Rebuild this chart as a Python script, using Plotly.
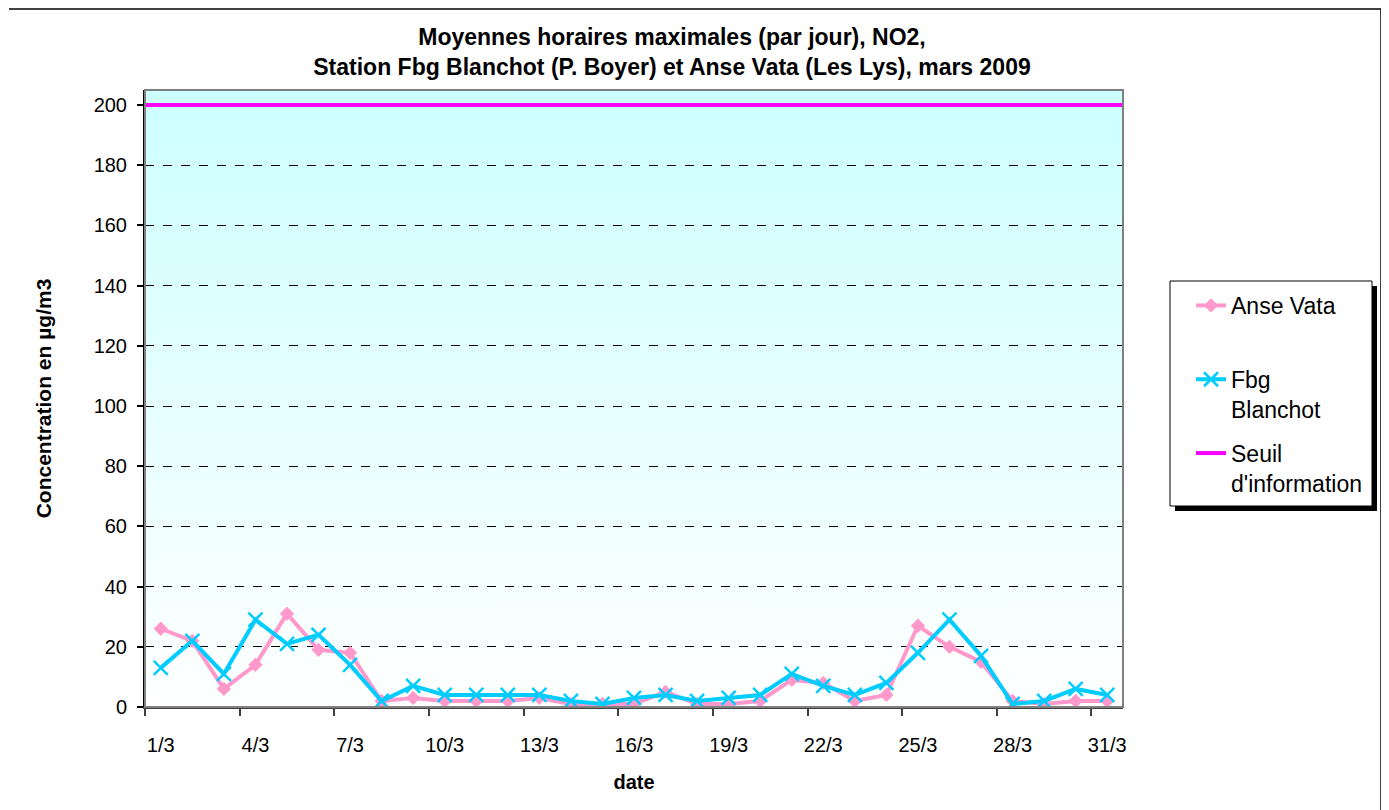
import base64
import plotly.graph_objects as go

# jours de mars 2009
dates = ["1/3", "2/3", "3/3", "4/3", "5/3", "6/3", "7/3", "8/3", "9/3", "10/3",
         "11/3", "12/3", "13/3", "14/3", "15/3", "16/3", "17/3", "18/3", "19/3", "20/3",
         "21/3", "22/3", "23/3", "24/3", "25/3", "26/3", "27/3", "28/3", "29/3", "30/3", "31/3"]
jours = list(range(1, 32))

anse_vata = [26, 22, 6, 14, 31, 19, 18, 2, 3, 2, 2, 2, 3, 1, 1, 1, 5, 1, 1, 2,
             9, 8, 2, 4, 27, 20, 15, 2, 1, 2, 2]
fbg_blanchot = [13, 22, 11, 29, 21, 24, 14, 2, 7, 4, 4, 4, 4, 2, 1, 3, 4, 2, 3, 4,
                11, 7, 4, 8, 18, 29, 17, 1, 2, 6, 4]
seuil_information = 200

tick_days = [1, 4, 7, 10, 13, 16, 19, 22, 25, 28, 31]
tick_labels = [dates[d - 1] for d in tick_days]
y_ticks = [0, 20, 40, 60, 80, 100, 120, 140, 160, 180, 200]

# la page ajoute une marge de 8px autour de la figure
OFF = 8
W, H = 1389 - OFF, 810 - OFF
L, T = 145 - OFF, 90 - OFF
R, B = W - (1123 - OFF), H - (707 - OFF)
PW, PH = 1123 - 145, 707 - 90


def px_x(x):
    # coordonnée page -> paper
    return (x - 145) / PW


def px_y(y):
    return (707 - y) / PH


FONT = "Liberation Sans, Arial, sans-serif"

# fond dégradé cyan -> blanc
svg = ('<svg xmlns="http://www.w3.org/2000/svg" width="10" height="100" preserveAspectRatio="none">'
       '<defs><linearGradient id="g" x1="0" y1="0" x2="0" y2="1">'
       '<stop offset="0" stop-color="#ccffff"/><stop offset="1" stop-color="#ffffff"/>'
       '</linearGradient></defs><rect width="10" height="100" fill="url(#g)"/></svg>')
bg_src = "data:image/svg+xml;base64," + base64.b64encode(svg.encode()).decode()

fig = go.Figure()

fig.add_trace(go.Scatter(
    x=jours, y=anse_vata, name="Anse Vata<br>\u00a0", mode="lines+markers",
    line=dict(color="#ff99cc", width=4),
    marker=dict(symbol="diamond", size=11, color="#ff99cc"),
    legendgroup="a",
))
fig.add_trace(go.Scatter(
    x=jours, y=fbg_blanchot, name="Fbg<br>Blanchot", mode="lines+markers",
    line=dict(color="#00ccff", width=4),
    marker=dict(symbol="x-thin", size=14, line=dict(color="#00ccff", width=2.5)),
    legendgroup="b",
))
fig.add_trace(go.Scatter(
    x=[None], y=[None], name="Seuil<br>d'information", mode="lines",
    line=dict(color="#ff00ff", width=4),
    legendgroup="c",
))
fig.add_hline(y=seuil_information, line=dict(color="#ff00ff", width=4), layer="above")

# cadre du graphique (gauche, haut, droite)
fx0, fx1, fy0, fy1 = px_x(9), px_x(1381), px_y(812), px_y(9)
frame = dict(color="black", width=1.5)
shapes = [
    dict(type="line", xref="paper", yref="paper", x0=fx0, x1=fx0, y0=fy0, y1=fy1, line=frame),
    dict(type="line", xref="paper", yref="paper", x0=fx0, x1=fx1, y0=fy1, y1=fy1, line=frame),
    dict(type="line", xref="paper", yref="paper", x0=fx1, x1=fx1, y0=fy0, y1=fy1, line=frame),
    # bord de la zone de tracé
    dict(type="rect", xref="paper", yref="paper", x0=0, x1=1, y0=0, y1=1,
         line=dict(color="#808080", width=2), layer="above"),
    # ombre de la légende
    dict(type="rect", xref="paper", yref="paper",
         x0=px_x(1175), x1=px_x(1377), y0=px_y(511), y1=px_y(286),
         fillcolor="black", line=dict(width=0), layer="above"),
    # cadre de la légende
    dict(type="rect", xref="paper", yref="paper",
         x0=px_x(1170), x1=px_x(1372), y0=px_y(506), y1=px_y(281),
         fillcolor="white", line=dict(color="black", width=1), layer="above"),
]

fig.update_layout(
    width=W, height=H,
    margin=dict(l=L, r=R, t=T, b=B, autoexpand=False),
    paper_bgcolor="white", plot_bgcolor="white",
    font=dict(family=FONT, size=20, color="black"),
    title=dict(
        text="<b>Moyennes horaires maximales (par jour), NO2,<br>"
             "Station Fbg Blanchot (P. Boyer) et Anse Vata (Les Lys), mars 2009</b>",
        x=(672 - OFF) / W, xref="container", xanchor="center",
        y=1 - (45 - OFF) / H, yref="container", yanchor="middle",
        font=dict(size=23, family=FONT),
    ),
    xaxis=dict(
        range=[0.5, 31.5], tickvals=tick_days, ticktext=tick_labels,
        ticks="", showgrid=False, zeroline=False,
        showline=True, linecolor="#404040", linewidth=2,
        minor=dict(tickvals=[0.5 + 3 * i for i in range(11)], ticks="outside",
                   ticklen=7, tickcolor="#404040", tickwidth=1.5),
        tickfont=dict(size=20), ticklabelstandoff=19,
        title=dict(text="<b>date</b>", font=dict(size=20), standoff=20),
    ),
    yaxis=dict(
        range=[0, 205], tickvals=y_ticks, ticks="outside", ticklen=6,
        tickcolor="black", tickwidth=1.5,
        showgrid=True, gridcolor="black", griddash="dash", gridwidth=1,
        zeroline=False, showline=True, linecolor="black", linewidth=2,
        tickfont=dict(size=20), ticklabelstandoff=6,
        title=dict(text="<b>Concentration en µg/m3</b>", font=dict(size=21), standoff=36),
    ),
    legend=dict(
        x=px_x(1191), y=px_y(284), xanchor="left", yanchor="top",
        bgcolor="rgba(0,0,0,0)", borderwidth=0,
        font=dict(size=23, family=FONT), valign="top",
        tracegroupgap=11, traceorder="grouped",
    ),
    images=[dict(source=bg_src, xref="paper", yref="paper", x=0, y=1,
                 sizex=1, sizey=1, sizing="stretch", layer="below")],
    shapes=shapes,
)

fig.write_html("out.html")
